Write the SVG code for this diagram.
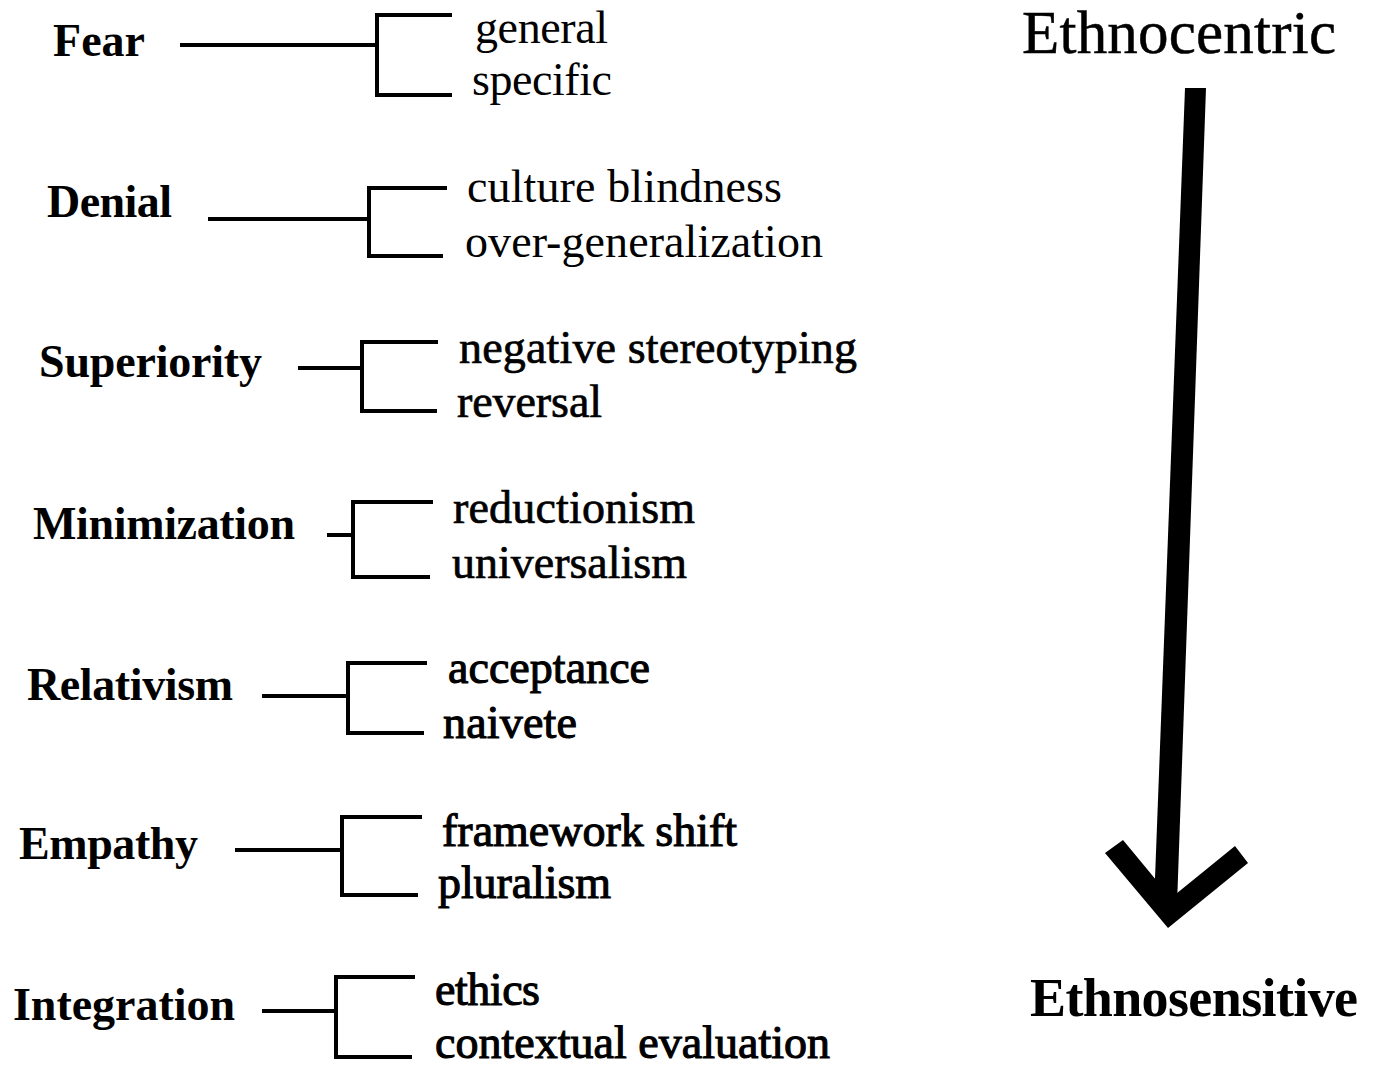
<svg xmlns="http://www.w3.org/2000/svg" width="1397" height="1066" viewBox="0 0 1397 1066">
<style>
text { font-family: "Liberation Serif", "Times New Roman", serif; fill: #000; }
.stage { font-size: 46px; font-weight: bold; }
.item { font-size: 46px; }
.dark { stroke: #000; stroke-width: 0.7px; }
.darker { stroke: #000; stroke-width: 1.1px; }
.conn { fill: none; stroke: #000; stroke-width: 4; stroke-linecap: butt; stroke-linejoin: miter; }
.title { font-size: 61px; stroke: #000; stroke-width: 0.5px; }
.title2 { font-size: 54px; font-weight: bold; }
</style>
<rect width="1397" height="1066" fill="#fff"/>

<g id="connectors" class="conn">
  <path d="M180,45 H377"/><path d="M452,15 H377 V95 H452"/>
  <path d="M208,219 H369"/><path d="M447,188 H369 V256 H443"/>
  <path d="M298,368 H362"/><path d="M438,342 H362 V411 H437"/>
  <path d="M327,535 H353"/><path d="M433,502 H353 V577 H430"/>
  <path d="M262,696 H348"/><path d="M427,663 H348 V733 H424"/>
  <path d="M235,850 H342"/><path d="M422,817 H342 V895 H418"/>
  <path d="M262,1011 H336"/><path d="M415,977 H336 V1057 H412"/>
</g>

<g id="fear"><text class="stage" x="53" y="56" textLength="92">Fear</text></g>
<g id="fear-items">
  <text class="item" x="475" y="43" textLength="133">general</text>
  <text class="item" x="472" y="95" textLength="140">specific</text>
</g>

<g id="denial"><text class="stage" x="47" y="217" textLength="125">Denial</text></g>
<g id="denial-items">
  <text class="item" x="467" y="202" textLength="315">culture blindness</text>
  <text class="item" x="465" y="257" textLength="358">over-generalization</text>
</g>

<g id="superiority"><text class="stage" x="39" y="377" textLength="223">Superiority</text></g>
<g id="superiority-items">
  <text class="item dark" x="459" y="363" textLength="398">negative stereotyping</text>
  <text class="item dark" x="457" y="417" textLength="145">reversal</text>
</g>

<g id="minimization"><text class="stage" x="33" y="539" textLength="262">Minimization</text></g>
<g id="minimization-items">
  <text class="item dark" x="453" y="523" textLength="242">reductionism</text>
  <text class="item dark" x="452" y="578" textLength="235">universalism</text>
</g>

<g id="relativism"><text class="stage" x="27" y="700" textLength="206">Relativism</text></g>
<g id="relativism-items">
  <text class="item darker" x="448" y="683" textLength="202">acceptance</text>
  <text class="item darker" x="443" y="738" textLength="134">naivete</text>
</g>

<g id="empathy"><text class="stage" x="19" y="859" textLength="179">Empathy</text></g>
<g id="empathy-items">
  <text class="item darker" x="442" y="846" textLength="295">framework shift</text>
  <text class="item darker" x="438" y="898" textLength="173">pluralism</text>
</g>

<g id="integration"><text class="stage" x="13" y="1020" textLength="222">Integration</text></g>
<g id="integration-items">
  <text class="item darker" x="435" y="1005" textLength="105">ethics</text>
  <text class="item darker" x="435" y="1058" textLength="395">contextual evaluation</text>
</g>

<g id="ethnocentric"><text class="title" x="1022" y="53" textLength="314">Ethnocentric</text></g>

<g id="arrow">
  <polygon points="1185,88 1206,88 1177,905 1154,905" fill="#000"/>
  <polygon points="1105,853 1168,928 1248,863 1235,846 1171,898 1123,840" fill="#000"/>
</g>

<g id="ethnosensitive"><text class="title2" x="1030" y="1016" textLength="328">Ethnosensitive</text></g>
</svg>
